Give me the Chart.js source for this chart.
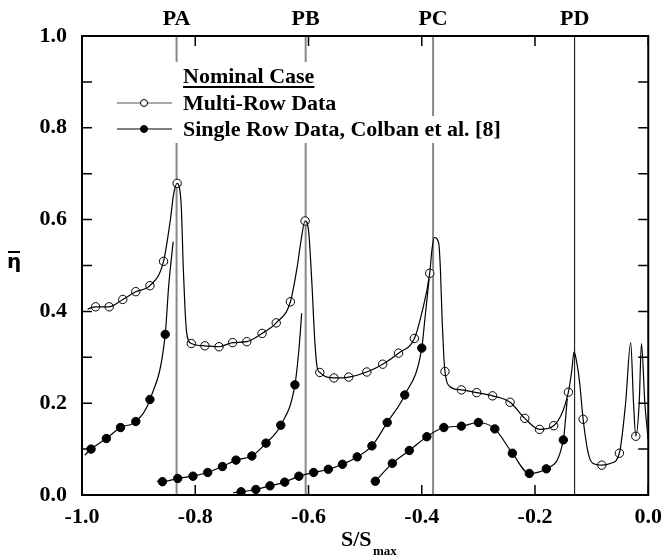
<!DOCTYPE html>
<html>
<head>
<meta charset="utf-8">
<script src="https://cdn.jsdelivr.net/npm/chart.js@4/dist/chart.umd.min.js"></script>
<style>
  body { margin: 0; background: #fff; }
  #wrap { width: 671px; height: 556px; }
</style>
</head>
<body>
<div id="wrap"><canvas id="chart"></canvas></div>
<script>
// values, [S/Smax, eta]
const multiRowCurve = [
    [-0.99, 0.405], [-0.976, 0.410], [-0.952, 0.410], [-0.928, 0.426], [-0.905, 0.443],
    [-0.880, 0.456], [-0.856, 0.509], [-0.844, 0.599], [-0.838, 0.657], [-0.832, 0.679],
    [-0.825, 0.636], [-0.821, 0.49], [-0.818, 0.403], [-0.815, 0.352], [-0.807, 0.330],
    [-0.783, 0.325], [-0.758, 0.323], [-0.734, 0.332], [-0.709, 0.334], [-0.682, 0.352],
    [-0.657, 0.375], [-0.632, 0.421], [-0.620, 0.497], [-0.613, 0.556], [-0.606, 0.597],
    [-0.600, 0.577], [-0.594, 0.461], [-0.589, 0.338], [-0.585, 0.280], [-0.580, 0.267],
    [-0.555, 0.255], [-0.529, 0.257], [-0.497, 0.268], [-0.469, 0.285], [-0.441, 0.309],
    [-0.413, 0.341], [-0.400, 0.396], [-0.386, 0.483], [-0.382, 0.534], [-0.378, 0.561],
    [-0.370, 0.548], [-0.367, 0.49], [-0.364, 0.381], [-0.361, 0.301], [-0.359, 0.269],
    [-0.350, 0.236], [-0.330, 0.229], [-0.303, 0.223], [-0.275, 0.216], [-0.244, 0.202],
    [-0.218, 0.167], [-0.192, 0.143], [-0.167, 0.151], [-0.141, 0.224], [-0.135, 0.272],
    [-0.131, 0.312], [-0.127, 0.294], [-0.121, 0.243], [-0.115, 0.165], [-0.106, 0.091],
    [-0.098, 0.069], [-0.082, 0.065], [-0.066, 0.069], [-0.051, 0.091], [-0.040, 0.200],
    [-0.031, 0.332], [-0.026, 0.200], [-0.022, 0.128], [-0.016, 0.200], [-0.012, 0.330],
    [-0.006, 0.200], [0.0, 0.12]
];
const multiRowMarks = [
    [-0.976, 0.410], [-0.952, 0.410], [-0.928, 0.426], [-0.905, 0.443], [-0.880, 0.456],
    [-0.856, 0.509], [-0.832, 0.679], [-0.807, 0.330], [-0.783, 0.325], [-0.758, 0.323],
    [-0.734, 0.332], [-0.709, 0.334], [-0.682, 0.352], [-0.657, 0.375], [-0.632, 0.421],
    [-0.606, 0.597], [-0.580, 0.267], [-0.555, 0.255], [-0.529, 0.257], [-0.497, 0.268],
    [-0.469, 0.285], [-0.441, 0.309], [-0.413, 0.341], [-0.386, 0.483], [-0.359, 0.269],
    [-0.330, 0.229], [-0.303, 0.223], [-0.275, 0.216], [-0.244, 0.202], [-0.218, 0.167],
    [-0.192, 0.143], [-0.167, 0.151], [-0.141, 0.224], [-0.115, 0.165], [-0.082, 0.065],
    [-0.051, 0.091], [-0.022, 0.128]
];
const singleRowSeg1 = [
    [-0.995, 0.087], [-0.984, 0.100], [-0.957, 0.123], [-0.932, 0.147], [-0.905, 0.160],
    [-0.880, 0.208], [-0.853, 0.350], [-0.847, 0.454], [-0.839, 0.552]
];
const singleRowSeg2 = [
    [-0.868, 0.030], [-0.858, 0.029], [-0.831, 0.036], [-0.804, 0.041], [-0.778, 0.049],
    [-0.752, 0.062], [-0.728, 0.076], [-0.700, 0.085], [-0.675, 0.113], [-0.649, 0.152],
    [-0.624, 0.240], [-0.617, 0.316], [-0.612, 0.396]
];
const singleRowSeg3 = [
    [-0.733, 0.005], [-0.719, 0.007], [-0.693, 0.012], [-0.668, 0.020], [-0.642, 0.028],
    [-0.617, 0.041], [-0.591, 0.049], [-0.565, 0.056], [-0.540, 0.067], [-0.514, 0.083],
    [-0.488, 0.107], [-0.461, 0.158], [-0.430, 0.218], [-0.400, 0.320], [-0.394, 0.389],
    [-0.387, 0.47]
];
const singleRowSeg4 = [
    [-0.482, 0.030], [-0.452, 0.069], [-0.422, 0.097], [-0.391, 0.127], [-0.361, 0.147],
    [-0.330, 0.150], [-0.300, 0.158], [-0.271, 0.144], [-0.240, 0.091], [-0.210, 0.047],
    [-0.180, 0.057], [-0.150, 0.120], [-0.143, 0.21]
];
const singleRowMarks = [
    [-0.984, 0.100], [-0.957, 0.123], [-0.932, 0.147], [-0.905, 0.160], [-0.880, 0.208],
    [-0.853, 0.350],
    [-0.858, 0.029], [-0.831, 0.036], [-0.804, 0.041], [-0.778, 0.049], [-0.752, 0.062],
    [-0.728, 0.076], [-0.700, 0.085], [-0.675, 0.113], [-0.649, 0.152], [-0.624, 0.240],
    [-0.719, 0.007], [-0.693, 0.012], [-0.668, 0.020], [-0.642, 0.028], [-0.617, 0.041],
    [-0.591, 0.049], [-0.565, 0.056], [-0.540, 0.067], [-0.514, 0.083], [-0.488, 0.107],
    [-0.461, 0.158], [-0.430, 0.218], [-0.400, 0.320],
    [-0.482, 0.030], [-0.452, 0.069], [-0.422, 0.097], [-0.391, 0.127], [-0.361, 0.147],
    [-0.330, 0.150], [-0.300, 0.158], [-0.271, 0.144], [-0.240, 0.091], [-0.210, 0.047],
    [-0.180, 0.057], [-0.150, 0.120]
];

const rowLabels = ['PA', 'PB', 'PC', 'PD'];
const rowPositions = [-0.833, -0.605, -0.380, -0.130];

const xTickValues = [-1.0, -0.8, -0.6, -0.4, -0.2, 0.0];
const yTickValues = [0, 0.1, 0.2, 0.3, 0.4, 0.5, 0.6, 0.7, 0.8, 0.9, 1.0];
const yTickLabels = ['0.0', '', '0.2', '', '0.4', '', '0.6', '', '0.8', '', '1.0'];

const legendTitle = 'Nominal Case';
const legendNames = ['Multi-Row Data', 'Single Row Data, Colban et al. [8]'];

const serif = "'Liberation Serif', 'Times New Roman', serif";
const pts = arr => arr.map(p => ({ x: p[0], y: p[1] }));

function curve(arr) {
    return {
        data: pts(arr),
        borderColor: '#000',
        borderWidth: 1.2,
        pointRadius: 0,
        cubicInterpolationMode: 'monotone',
        fill: false
    };
}

function marks(arr, filled) {
    return {
        data: pts(arr),
        showLine: false,
        pointRadius: 4.2,
        pointBorderWidth: 1,
        pointBorderColor: '#000',
        pointBackgroundColor: filled ? '#000' : '#fff'
    };
}

const decor = {
    id: 'decor',
    beforeDatasetsDraw(chart) {
        const { ctx, chartArea: a, scales } = chart;
        ctx.save();
        // reference lines for the rows
        rowPositions.forEach((v, i) => {
            const x = scales.x.getPixelForValue(v);
            ctx.beginPath();
            ctx.strokeStyle = i < 3 ? '#888' : '#000';
            ctx.lineWidth = i < 3 ? 2 : 1;
            ctx.moveTo(x, a.top);
            ctx.lineTo(x, a.bottom);
            ctx.stroke();
        });
        ctx.restore();
    },
    afterDatasetsDraw(chart) {
        const { ctx, chartArea: a, scales } = chart;
        ctx.save();

        // inward ticks
        ctx.strokeStyle = '#000';
        ctx.lineWidth = 1.5;
        ctx.beginPath();
        yTickValues.forEach(v => {
            const y = scales.y.getPixelForValue(v);
            ctx.moveTo(a.left, y); ctx.lineTo(a.left + 10, y);
            ctx.moveTo(a.right, y); ctx.lineTo(a.right - 10, y);
        });
        xTickValues.forEach(v => {
            const x = scales.x.getPixelForValue(v);
            ctx.moveTo(x, a.bottom); ctx.lineTo(x, a.bottom - 10);
            ctx.moveTo(x, a.top); ctx.lineTo(x, a.top + 10);
        });
        ctx.stroke();

        // frame
        ctx.lineWidth = 2;
        ctx.strokeRect(a.left, a.top, a.right - a.left, a.bottom - a.top);

        // row labels above the frame
        ctx.fillStyle = '#000';
        ctx.font = 'bold 22px ' + serif;
        ctx.textAlign = 'center';
        ctx.textBaseline = 'middle';
        rowPositions.forEach((v, i) => {
            ctx.fillText(rowLabels[i], scales.x.getPixelForValue(v), 19);
        });

        // legend
        ctx.fillStyle = '#fff';
        ctx.fillRect(110, 62, 210, 28);
        ctx.fillRect(110, 90, 226, 26);
        ctx.fillRect(110, 116, 396, 27);

        ctx.fillStyle = '#000';
        ctx.font = 'bold 22px ' + serif;
        ctx.textAlign = 'left';
        ctx.textBaseline = 'alphabetic';
        ctx.fillText(legendTitle, 183, 83);
        const tw = ctx.measureText(legendTitle).width;
        ctx.fillRect(183, 86, tw, 2);

        ctx.textBaseline = 'middle';
        [103, 129].forEach((y, i) => {
            ctx.beginPath();
            ctx.strokeStyle = i === 0 ? '#555' : '#000';
            ctx.lineWidth = 1.2;
            ctx.moveTo(117, y); ctx.lineTo(172, y);
            ctx.stroke();
            ctx.beginPath();
            ctx.arc(144, y, 3.5, 0, Math.PI * 2);
            ctx.fillStyle = i === 0 ? '#fff' : '#000';
            ctx.fill();
            ctx.strokeStyle = '#000';
            ctx.lineWidth = 1;
            ctx.stroke();
            ctx.fillStyle = '#000';
            ctx.fillText(legendNames[i], 183, y + 1);
        });

        // axis titles
        ctx.font = 'bold 20px "DejaVu Sans", sans-serif';
        ctx.textAlign = 'center';
        ctx.textBaseline = 'alphabetic';
        ctx.fillText('η', 14, 268);
        ctx.fillRect(8, 251, 12, 2);

        ctx.font = 'bold 22px ' + serif;
        ctx.textAlign = 'left';
        ctx.fillText('S/S', 341, 546);
        ctx.font = 'bold 13px ' + serif;
        ctx.fillText('max', 373, 555);

        ctx.restore();
    }
};

new Chart(document.getElementById('chart').getContext('2d'), {
    type: 'line',
    data: {
        datasets: [
            curve(multiRowCurve),
            curve(singleRowSeg1),
            curve(singleRowSeg2),
            curve(singleRowSeg3),
            curve(singleRowSeg4),
            marks(multiRowMarks, false),
            marks(singleRowMarks, true)
        ]
    },
    options: {
        responsive: true,
        maintainAspectRatio: false,
        animation: false,
        events: [],
        layout: { padding: { top: 36, right: 15, left: 0, bottom: 0 } },
        plugins: {
            legend: { display: false },
            title: { display: false },
            tooltip: { enabled: false }
        },
        scales: {
            x: {
                type: 'linear',
                min: -1,
                max: 0,
                afterBuildTicks: s => { s.ticks = xTickValues.map(v => ({ value: v })); },
                afterFit: s => { s.height = 61; },
                grid: { display: false, drawTicks: false },
                border: { display: false },
                ticks: {
                    padding: 9,
                    color: '#000',
                    maxRotation: 0,
                    font: { family: serif, size: 22, weight: 'bold' },
                    callback: v => (Math.abs(v) < 1e-9 ? 0 : v).toFixed(1)
                }
            },
            y: {
                min: 0,
                max: 1,
                afterBuildTicks: s => { s.ticks = yTickValues.map(v => ({ value: v })); },
                afterFit: s => { s.width = 82; },
                grid: { display: false, drawTicks: false },
                border: { display: false },
                ticks: {
                    padding: 15,
                    color: '#000',
                    font: { family: serif, size: 22, weight: 'bold' },
                    callback: (v, i) => yTickLabels[i]
                }
            }
        }
    },
    plugins: [decor]
});
</script>
</body>
</html>
